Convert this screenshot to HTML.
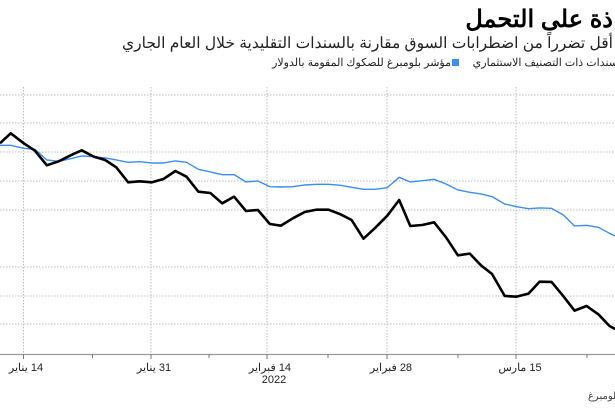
<!DOCTYPE html>
<html><head><meta charset="utf-8"><style>
body{margin:0;width:615px;height:410px;overflow:hidden;background:#fff;position:relative;font-family:"Liberation Sans","Noto Sans CJK SC",sans-serif;}
.t{position:absolute;white-space:nowrap;direction:rtl;color:#000}
</style></head><body>
<div class="t" style="right:2px;top:5px;font-size:24px;font-weight:bold;">ذة على التحمل</div>
<div class="t" style="right:2px;top:34px;font-size:15.5px;color:#222">أقل تضرراً من اضطرابات السوق مقارنة بالسندات التقليدية خلال العام الجاري</div>
<div class="t" style="right:-10px;top:56px;font-size:11px;color:#222">السندات ذات التصنيف الاستثماري</div>
<div style="position:absolute;left:452px;top:59px;width:7px;height:7px;background:#3a8ef0"></div>
<div class="t" style="right:164px;top:56px;font-size:11px;color:#222">مؤشر بلومبرغ للصكوك المقومة بالدولار</div>
<div class="t" style="right:-40px;top:391px;font-size:10px;color:#444">المصدر: بلومبرغ</div>
<svg width="615" height="410" style="position:absolute;left:0;top:0">
<g stroke="#bbb" stroke-width="1" stroke-dasharray="1.5,1.5">
<line x1="0" x2="615" y1="95" y2="95"/><line x1="0" x2="615" y1="123" y2="123"/><line x1="0" x2="615" y1="152" y2="152"/><line x1="0" x2="615" y1="181" y2="181"/><line x1="0" x2="615" y1="210" y2="210"/><line x1="0" x2="615" y1="267" y2="267"/><line x1="0" x2="615" y1="296" y2="296"/><line x1="0" x2="615" y1="324" y2="324"/>
<line x1="23.5" x2="23.5" y1="87" y2="354"/><line x1="151" x2="151" y1="87" y2="354"/><line x1="267" x2="267" y1="87" y2="354"/><line x1="387" x2="387" y1="87" y2="354"/><line x1="516" x2="516" y1="87" y2="354"/>
</g>
<line x1="0" x2="615" y1="354.5" y2="354.5" stroke="#999" stroke-width="1.2"/>
<g stroke="#777" stroke-width="1"><line x1="23.5" x2="23.5" y1="354" y2="359"/><line x1="92.5" x2="92.5" y1="354" y2="358"/><line x1="151" x2="151" y1="354" y2="359"/><line x1="209" x2="209" y1="354" y2="358"/><line x1="267" x2="267" y1="354" y2="359"/><line x1="328" x2="328" y1="354" y2="358"/><line x1="387" x2="387" y1="354" y2="359"/><line x1="458" x2="458" y1="354" y2="358"/><line x1="516" x2="516" y1="354" y2="359"/><line x1="587" x2="587" y1="354" y2="358"/></g>
<g transform="translate(0,80) scale(0.3968,0.3333)" fill="none" stroke-linejoin="round">
<polyline vector-effect="non-scaling-stroke" stroke="#3a8ef0" stroke-width="1.4" points="0,196 27,196 60,205 88,208 118,240 148,244 178,236 206,228 236,230 265,234 293,240 323,247 352,245 382,249 412,249 442,243 470,247 500,268 530,276 560,284 590,284 620,306 650,303 680,320 708,321 738,320 768,315 798,313 828,313 858,316 886,322 916,328 946,328 976,323 1006,292 1034,306 1064,302 1094,298 1124,312 1154,330 1184,337 1212,342 1240,350 1272,372 1302,380 1332,386 1360,384 1390,385 1420,405 1448,438 1478,436 1508,442 1536,460 1568,478"/>
<polyline vector-effect="non-scaling-stroke" stroke="#000" stroke-width="2.6" points="0,190 27,160 60,190 88,212 118,256 148,244 178,226 206,211 236,230 265,240 293,262 323,307 352,304 382,307 412,297 442,273 470,290 500,335 530,339 560,370 590,350 620,393 650,390 680,432 708,437 738,415 768,396 798,389 828,389 858,403 886,420 916,476 946,443 976,407 1006,360 1034,438 1064,435 1094,427 1124,472 1154,526 1184,521 1212,556 1240,582 1272,648 1302,650 1332,641 1360,605 1390,606 1420,649 1448,692 1478,678 1508,703 1536,738 1568,758"/>
</g>
<g font-family="Liberation Sans, Noto Sans CJK SC, sans-serif" font-size="11" fill="#222" text-anchor="middle">
<text x="26" y="371" direction="rtl">14 يناير</text>
<text x="154" y="371" direction="rtl">31 يناير</text>
<text x="270" y="371" direction="rtl">14 فبراير</text>
<text x="274" y="383">2022</text>
<text x="391" y="371" direction="rtl">28 فبراير</text>
<text x="520" y="371" direction="rtl">15 مارس</text>
</g>
</svg>
</body></html>
